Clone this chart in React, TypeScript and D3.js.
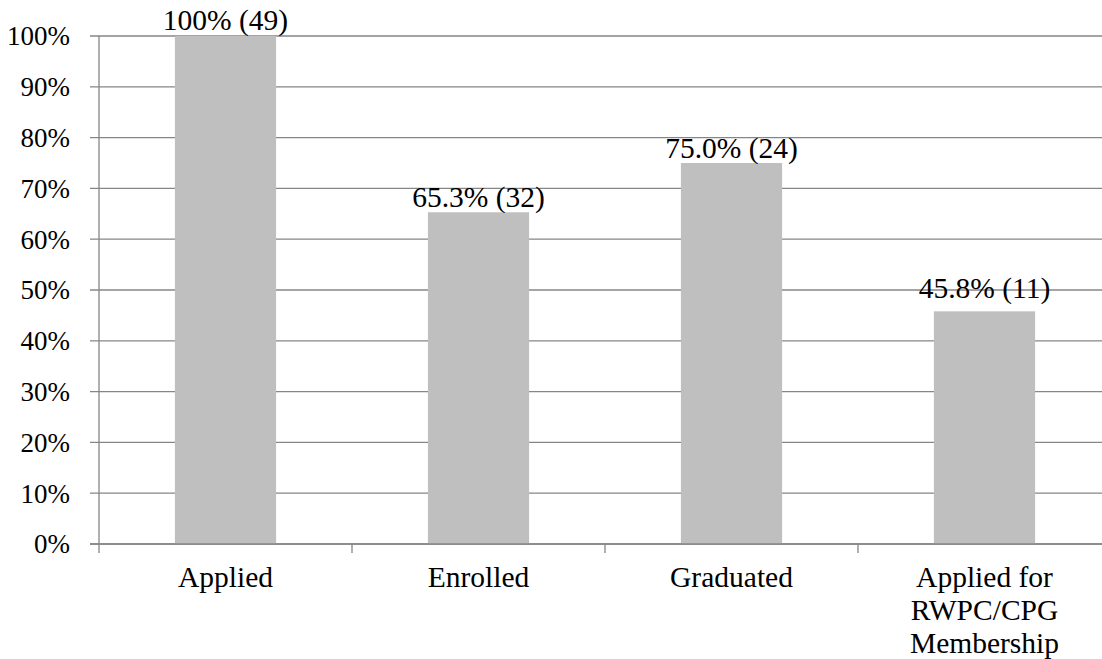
import React from "react";
import * as d3 from "d3";

const categories: string[][] = [
  ["Applied"],
  ["Enrolled"],
  ["Graduated"],
  ["Applied for", "RWPC/CPG", "Membership"],
];
const values: number[] = [100, 65.3, 75.0, 45.8];
const counts: number[] = [49, 32, 24, 11];
const valueLabels: string[] = ["100%", "65.3%", "75.0%", "45.8%"];
const yTicks: number[] = [0, 10, 20, 30, 40, 50, 60, 70, 80, 90, 100];

const W = 1102;
const H = 659;
const left = 99;
const top = 36;
const bottom = 544;
const FONT = "'Liberation Serif', 'Times New Roman', serif";
const FS_Y = 27;
const FS = 29.5;
const labelGap = [6, 5, 5, 13];

export default function App() {
  const x = d3
    .scaleBand<number>()
    .domain(categories.map((_, i) => i))
    .range([left, left + 253 * 4])
    .paddingInner(0.6)
    .paddingOuter(0.3);
  const step = x.step();
  const y = d3.scaleLinear().domain([0, 100]).range([bottom, top]);
  const gridColor = "#868686";

  return (
    <svg
      width={W}
      height={H}
      style={{ position: "absolute", left: 0, top: 0, display: "block", background: "#fff" }}
      fontFamily={FONT}
    >
      {yTicks.map((t) => (
        <g key={t}>
          <line x1={left - 9} x2={W} y1={y(t)} y2={y(t)} stroke={gridColor} strokeWidth={1.3} />
          <text x={70} y={y(t)} dy="0.35em" textAnchor="end" fontSize={FS_Y} fill="#000">
            {t}%
          </text>
        </g>
      ))}
      {categories.map((c, i) => (
        <rect
          key={i}
          x={x(i)}
          y={y(values[i])}
          width={x.bandwidth()}
          height={bottom - y(values[i])}
          fill="#bfbfbf"
        />
      ))}
      <line x1={left} x2={left} y1={top} y2={bottom} stroke={gridColor} strokeWidth={1.3} />
      <line x1={left - 9} x2={W} y1={bottom} y2={bottom} stroke={gridColor} strokeWidth={1.3} />
      {d3.range(5).map((i) => (
        <line
          key={i}
          x1={left + i * step}
          x2={left + i * step}
          y1={bottom}
          y2={bottom + 9}
          stroke={gridColor}
          strokeWidth={1.3}
        />
      ))}
      {categories.map((c, i) => (
        <text
          key={i}
          x={(x(i) as number) + x.bandwidth() / 2}
          y={y(values[i]) - labelGap[i]}
          textAnchor="middle"
          fontSize={FS}
          fill="#000"
        >
          {valueLabels[i]} ({counts[i]})
        </text>
      ))}
      {categories.map((c, i) => (
        <text
          key={i}
          x={(x(i) as number) + x.bandwidth() / 2}
          y={587}
          textAnchor="middle"
          fontSize={FS}
          fill="#000"
        >
          {c.map((line, j) => (
            <tspan key={j} x={(x(i) as number) + x.bandwidth() / 2} dy={j === 0 ? 0 : 33}>
              {line}
            </tspan>
          ))}
        </text>
      ))}
    </svg>
  );
}
